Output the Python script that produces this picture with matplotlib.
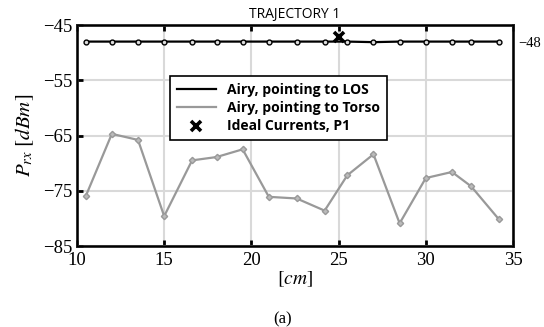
import matplotlib
matplotlib.use("Agg")
import matplotlib.pyplot as plt

# distance along trajectory [cm]
dist_cm = [10.5, 12.0, 13.5, 15.0, 16.6, 18.0, 19.5, 21.0, 22.6, 24.2,
           25.5, 27.0, 28.5, 30.0, 31.5, 32.6, 34.2]
los_dbm = [-48.0, -48.0, -48.0, -48.0, -48.0, -48.0, -48.0, -48.0, -48.0, -48.0,
           -48.0, -48.1, -48.0, -48.0, -48.0, -48.0, -48.0]
torso_dbm = [-76.0, -64.7, -65.8, -79.6, -69.5, -68.9, -67.5, -76.1, -76.4, -78.6,
             -72.2, -68.4, -80.9, -72.7, -71.6, -74.2, -80.2]
ideal_x = [25.0]
ideal_y = [-47.2]

x_ticks = [10, 15, 20, 25, 30, 35]
y_ticks = [-85, -75, -65, -55, -45]
right_ticks = [-48]

plt.rcParams['mathtext.fontset'] = 'stix'
serif = 'Liberation Serif'

fig = plt.figure(figsize=(5.44, 3.27), dpi=100)
ax = fig.add_axes([0.1415, 0.2477, 0.8015, 0.6758])

ax.plot(dist_cm, los_dbm, color='black', lw=1.6, marker='o', ms=3.5,
        mfc='#dddddd', mec='black', mew=1.0, label='Airy, pointing to LOS', zorder=3)
ax.plot(dist_cm, torso_dbm, color='#999999', lw=1.6, marker='D', ms=3.2,
        mfc='#bbbbbb', mec='#999999', mew=1.0, label='Airy, pointing to Torso', zorder=3)
ax.plot(ideal_x, ideal_y, ls='none', marker='x', ms=7, mew=2.6, color='black',
        label='Ideal Currents, P1', zorder=4)

ax.set_xlim(10, 35)
ax.set_ylim(-85, -45)
ax.set_xticks(x_ticks)
ax.set_yticks(y_ticks)
ax.grid(True, color='#d9d9d9', lw=1.5)
ax.set_axisbelow(True)
for s in ax.spines.values():
    s.set_linewidth(2.0)
    s.set_color('#222222')
ax.tick_params(direction='in', length=4, width=2, top=True, right=True,
               labelsize=13.5)
ax.tick_params(axis='x', pad=4)
ax.tick_params(axis='y', pad=3)
for lab in ax.get_xticklabels() + ax.get_yticklabels():
    lab.set_family(serif)

ax2 = ax.twinx()
ax2.set_ylim(-85, -45)
ax2.set_yticks(right_ticks)
ax2.tick_params(length=0, pad=4, labelsize=10.5)
for lab in ax2.get_yticklabels():
    lab.set_family(serif)

ax.set_ylabel(r'$P_{rx}\ [dBm]$', fontsize=15, labelpad=5)
ax.set_xlabel(r'$[cm]$', fontsize=14, labelpad=1)
ax.set_title('TRAJECTORY 1', fontsize=10, family='Open Sans', pad=5)

leg = ax.legend(loc='upper left', bbox_to_anchor=(0.197, 0.80), frameon=True,
                fancybox=False, edgecolor='black', framealpha=1,
                prop={'family': 'Open Sans', 'weight': 'bold', 'size': 10},
                handlelength=2.8, borderpad=0.5, labelspacing=0.3)
leg.get_frame().set_linewidth(1.2)
for h in leg.get_lines()[:2]:
    h.set_marker('')

fig.text(0.52, 0.01, '(a)', ha='center', fontsize=12, family=serif)

fig.savefig('out.png', dpi=100)
